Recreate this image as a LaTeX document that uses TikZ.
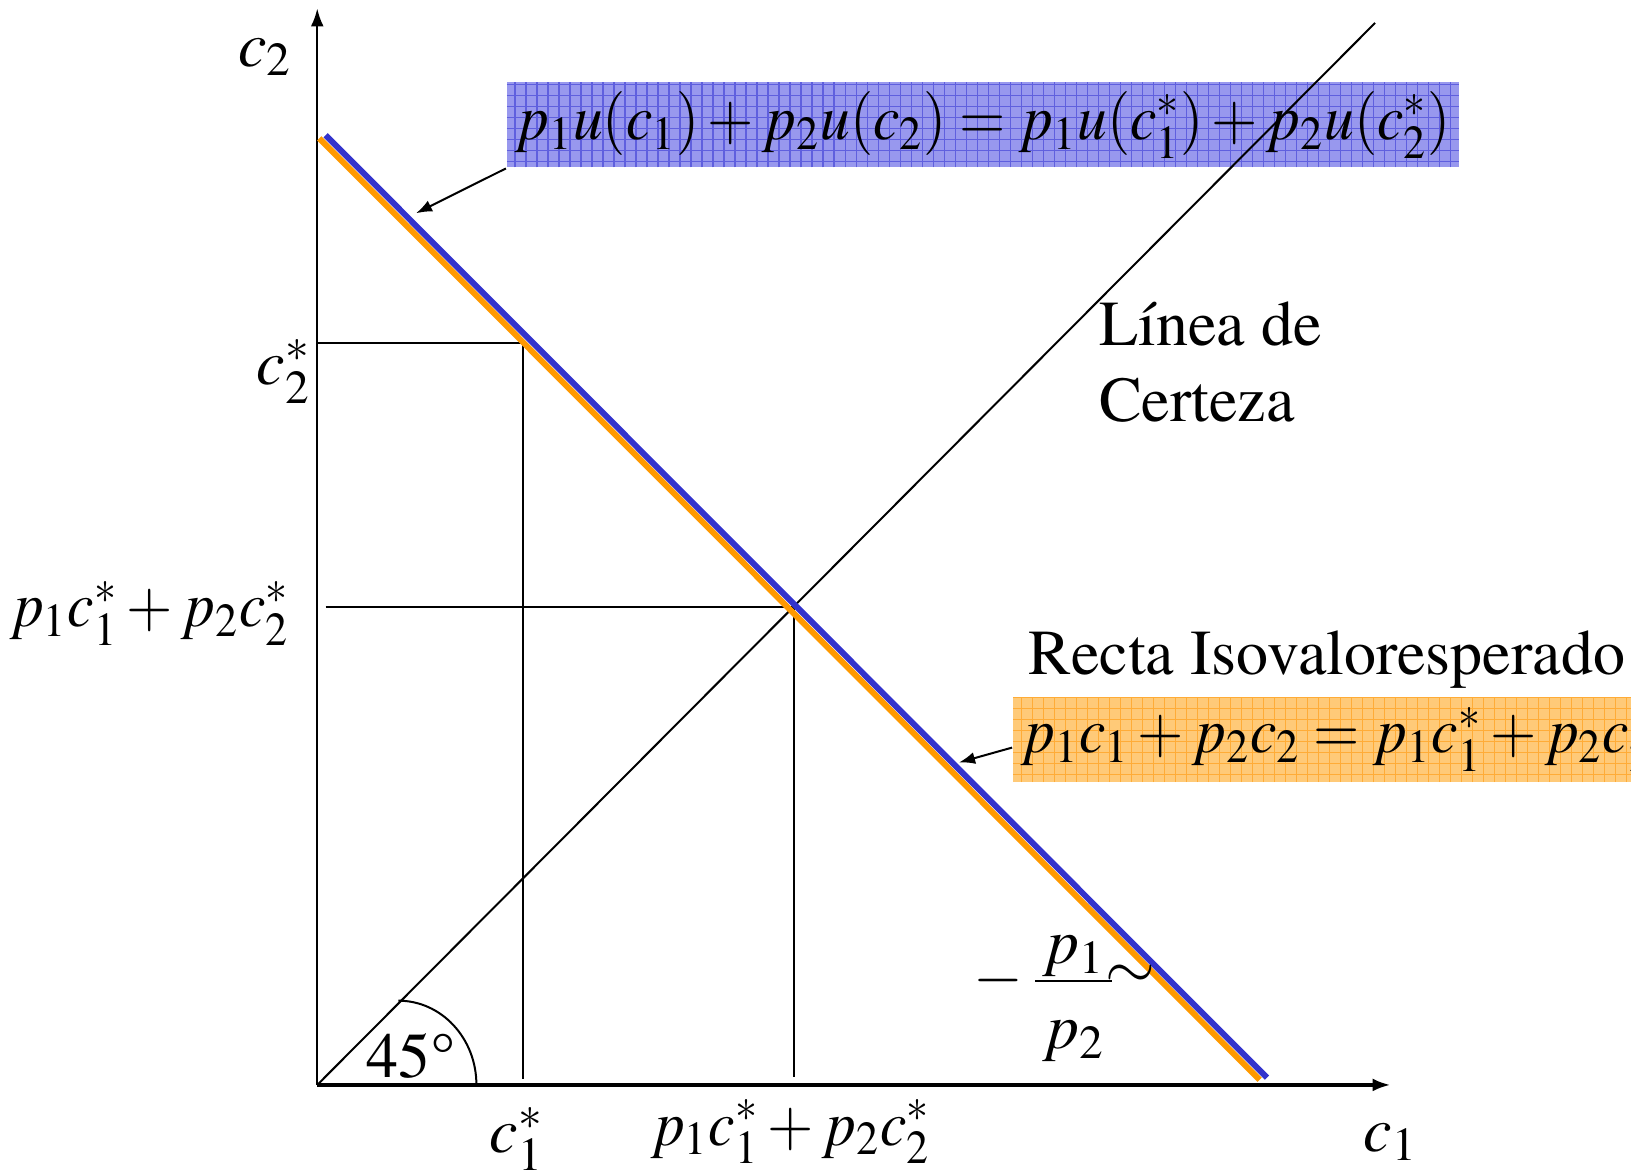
\documentclass[tikz,border=0pt]{standalone}
\usepackage[T1]{fontenc}
\usepackage{amsmath}
\usepackage{mathptmx}
\usepackage{textcomp}
\usepackage{graphicx}
\usetikzlibrary{arrows.meta,positioning}

\newcommand{\sqz}[1]{\scalebox{0.93}[1]{$#1$}}

\definecolor{eqblue}{RGB}{152,152,238}
\definecolor{gridblue}{RGB}{95,95,222}
\definecolor{eqorange}{RGB}{255,202,120}
\definecolor{gridorange}{RGB}{255,172,55}
\definecolor{lineorange}{RGB}{255,153,0}
\definecolor{lineblue}{RGB}{51,51,204}

\tikzset{
  bluebox/.style={fill=eqblue,inner sep=2pt,path picture={
      \draw[gridblue,line width=0.3pt,step=2.75pt] (path picture bounding box.south west) grid (path picture bounding box.north east);}},
  orangebox/.style={fill=eqorange,inner sep=2pt,path picture={
      \draw[gridorange,line width=0.3pt,step=2.75pt] (path picture bounding box.south west) grid (path picture bounding box.north east);}},
  annot/.style={line width=0.5pt,-{Latex[length=4pt,width=3pt]}},
  axis/.style={-{Latex[length=4.5pt,width=3.2pt]}}
}

\begin{document}
\begin{tikzpicture}[x=0.26pt,y=-0.26pt,font=\fontsize{16}{19}\selectfont,line width=0.5pt]
  \useasboundingbox (0,0) rectangle (1568,1130);

  \coordinate (o) at (305,1043);
  \coordinate (xt) at (1337,1043);
  \coordinate (yt) at (305,8);
  \coordinate (d1) at (1322,22);
  \coordinate (bo1) at (307,133);
  \coordinate (bo2) at (1211,1038);
  \coordinate (bb1) at (313,130);
  \coordinate (bb2) at (1218,1036);

  \node[bluebox,minimum width=238pt,minimum height=21.3pt] (equ) at (945,120) {\sqz{p_1u(c_1)+p_2u(c_2)=p_1u(c_1^{*})+p_2u(c_2^{*})}};
  \node[orangebox,anchor=west,minimum height=21.3pt] (eqc) at (973,711) {\sqz{p_1c_1+p_2c_2=p_1c_1^{*}+p_2c_2^{*}}};

  \draw[axis,line width=0.9pt] (o) -- (xt);
  \draw[axis,line width=0.6pt] (o) -- (yt);
  \draw (o) -- (d1);

  \begin{scope}
    \coordinate (h1) at (305,330);
    \coordinate (h2) at (504,330);
    \coordinate (v1) at (503,1037);
    \coordinate (m) at (763,584);
    \coordinate (mh) at (313,584);
    \coordinate (mv) at (763,1035);

    \draw (h1) -- (h2);
    \draw (503,330) -- (v1);
    \draw (mh) -- (m) -- (mv);
  \end{scope}

  \draw[line width=1.5pt,lineorange] (bo1) -- (bo2);
  \draw[line width=1.5pt,lineblue] (bb1) -- (bb2);

  \coordinate (a1) at (383,962);
  \draw (a1) arc[start angle=90,end angle=0,x radius=19.5pt,y radius=21pt];

  \node (c2lab) at (255,55) {$c_2$};
  \node (c1lab) at (1337,1098) {$c_1$};
  \node (c2s) at (273,357) {$c_2^{*}$};
  \node[anchor=east] (sumy) at (292,590) {\sqz{p_1c_1^{*}+p_2c_2^{*}}};
  \node (c1s) at (497,1095) {$c_1^{*}$};
  \node (sumx) at (760,1088) {\sqz{p_1c_1^{*}+p_2c_2^{*}}};
  \node (ang) at (395,1015) {45\textdegree};
  \node[anchor=west,align=left] (cert) at (1043,348) {L\'{\i}nea de\\Certeza};
  \node[anchor=west] (recta) at (975,634) {Recta Isovaloresperado};
  \node (slp) at (1005,960) {$-\,\genfrac{}{}{0.4pt}{0}{\,\smash[b]{\raisebox{-2.5pt}{$p_1$}}\,}{\rule{0pt}{15.5pt}p_2}$};
  \node (tld) at (1087,939) {$\sim$};

  \coordinate (t1) at (400,205);
  \coordinate (t2) at (922,733);
  \draw[annot] (equ.south west) -- (t1);
  \draw[annot] ([yshift=-2pt]eqc.west) -- (t2);

\end{tikzpicture}
\end{document}
